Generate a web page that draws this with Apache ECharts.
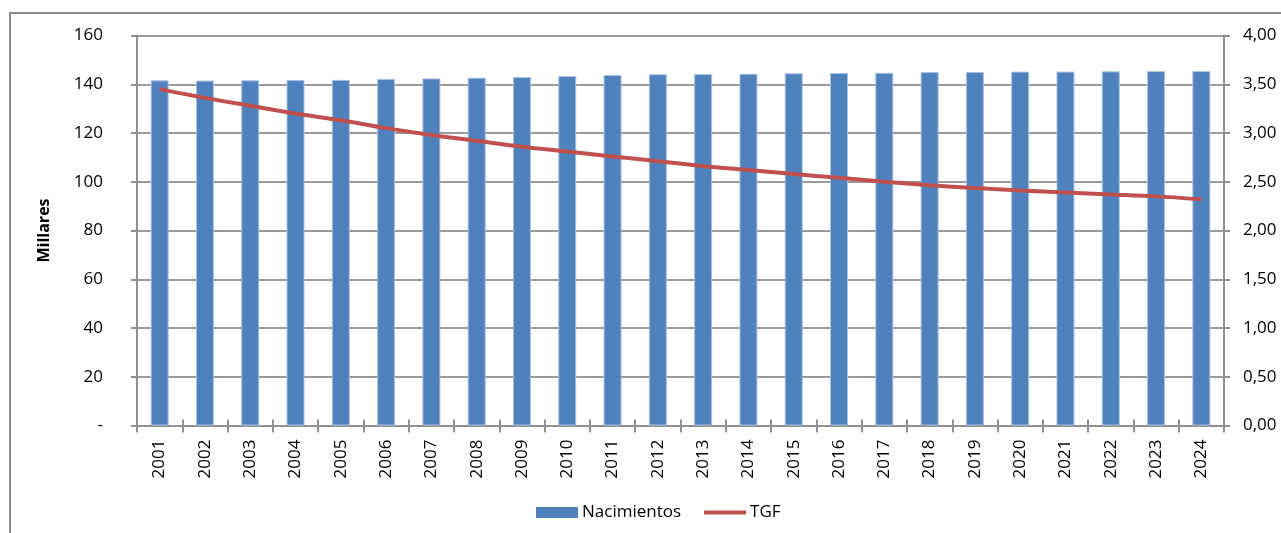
<!DOCTYPE html>
<html>
<head>
<meta charset="utf-8">
<title>Nacimientos y TGF</title>
<script src="https://cdn.jsdelivr.net/npm/echarts@6/dist/echarts.min.js"></script>
<style>
  html, body { margin: 0; padding: 0; background: #fff; }
  #chart { width: 1281px; height: 533px; }
</style>
</head>
<body>
<div id="chart"></div>
<script>
// años
const years = ['2001','2002','2003','2004','2005','2006','2007','2008','2009','2010','2011','2012',
  '2013','2014','2015','2016','2017','2018','2019','2020','2021','2022','2023','2024']
// nacimientos (millares)
const nacimientos = [141.6,141.5,141.6,141.7,141.8,142.2,142.4,142.7,143.0,143.4,143.8,144.1,
  144.2,144.3,144.5,144.6,144.7,145.0,145.0,145.2,145.2,145.3,145.4,145.4]
// tasa global de fecundidad
const tgf = [3.45,3.36,3.28,3.20,3.13,3.05,2.98,2.92,2.86,2.81,2.76,2.71,
  2.66,2.62,2.58,2.54,2.50,2.465,2.435,2.41,2.39,2.37,2.35,2.32]

const chart = echarts.init(document.getElementById('chart'))
const font = 'Open Sans'
const grey = '#909090'

const option = {
  animation: false,
  backgroundColor: '#fff',
  textStyle: { fontFamily: font, color: '#000' },
  graphic: [{
    type: 'rect',
    shape: { x: 10, y: 13, width: 1300, height: 600 },
    style: { fill: 'none', stroke: '#8a8a8a', lineWidth: 2 },
    silent: true
  }],
  grid: { left: 137, right: 57, top: 35.5, bottom: 107.5 },
  legend: {
    left: 531,
    top: 499,
    itemWidth: 42,
    itemHeight: 11,
    itemGap: 21,
    textStyle: { fontFamily: font, fontSize: 17, color: '#000', padding: [0, 0, 0, -1] },
    data: [
      { name: 'Nacimientos', icon: 'rect', itemStyle: { borderWidth: 0 } },
      { name: 'TGF', itemStyle: { opacity: 0 }, lineStyle: { width: 4 } }
    ]
  },
  xAxis: [{
    type: 'category',
    data: years,
    axisLine: { lineStyle: { color: grey, width: 2 } },
    axisTick: { show: true, length: 7, lineStyle: { color: grey, width: 2 } },
    axisLabel: { rotate: 90, margin: 14, fontSize: 17, color: '#000', fontFamily: font }
  }, {
    type: 'category',
    position: 'top',
    data: years,
    axisLine: { show: true, lineStyle: { color: grey, width: 2 } },
    axisTick: { show: true, length: 6, lineStyle: { color: grey, width: 2 } },
    axisLabel: { show: false }
  }],
  yAxis: [{
    type: 'value',
    min: 0,
    max: 160,
    interval: 20,
    name: 'Millares',
    nameLocation: 'middle',
    nameGap: 85,
    nameTextStyle: { fontFamily: font, fontSize: 16, fontWeight: 'bold', color: '#000' },
    axisLine: { show: true, lineStyle: { color: grey, width: 2 } },
    axisTick: { show: true, length: 6, lineStyle: { color: grey, width: 2 } },
    splitLine: { lineStyle: { color: '#9a9a9a', width: 2 } },
    axisLabel: {
      margin: 34, fontSize: 17, color: '#000', fontFamily: font,
      formatter: v => v === 0 ? '-' : v
    }
  }, {
    type: 'value',
    min: 0,
    max: 4,
    interval: 0.5,
    position: 'right',
    axisLine: { show: true, lineStyle: { color: grey, width: 2 } },
    axisTick: { show: true, length: 6, lineStyle: { color: grey, width: 2 } },
    splitLine: { show: false },
    axisLabel: {
      margin: 19, fontSize: 17, color: '#000', fontFamily: font,
      formatter: v => v.toFixed(2).replace('.', ',')
    }
  }],
  series: [{
    name: 'Nacimientos',
    type: 'bar',
    data: nacimientos,
    barWidth: 18,
    itemStyle: { color: '#4F81BD', borderColor: '#a9c0df', borderWidth: 1 }
  }, {
    name: 'TGF',
    type: 'line',
    yAxisIndex: 1,
    data: tgf,
    smooth: 0.3,
    symbol: 'none',
    lineStyle: { color: '#C0504D', width: 4 },
    itemStyle: { color: '#C0504D' }
  }]
}

chart.setOption(option)
</script>
</body>
</html>
